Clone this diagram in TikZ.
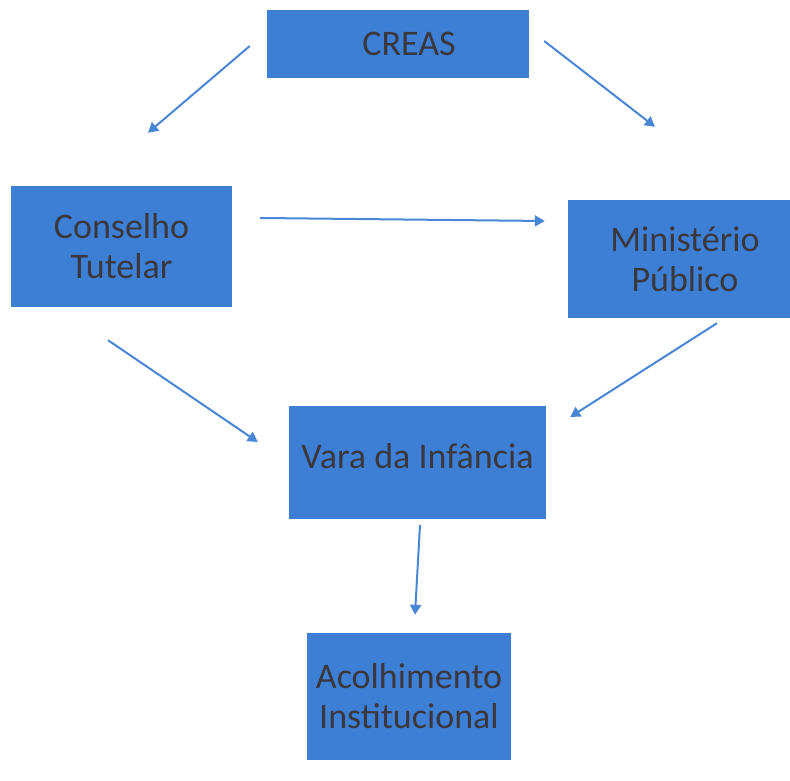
\documentclass[tikz,border=0pt]{standalone}
\usepackage{fontspec}
\setmainfont{Carlito}
\usetikzlibrary{arrows.meta}
\definecolor{boxblue}{RGB}{62,127,214}
\definecolor{arrowblue}{RGB}{74,134,214}
\definecolor{textgrey}{RGB}{58,56,60}

\begin{document}
\begin{tikzpicture}[x=1pt,y=1pt,
  box/.style={rectangle,fill=boxblue,text=textgrey,align=center,inner sep=0pt,
    font=\fontsize{36}{40}\selectfont},
  arr/.style={draw=arrowblue,line width=2pt,-{Triangle[width=11pt,length=10pt]}}]
\useasboundingbox (0,0) rectangle (790,781);
\node [box,minimum width=262pt,minimum height=68pt] (creas) at (398,737) {\hspace*{22pt}CREAS};
\node [box,minimum width=221pt,minimum height=121pt] (conselho) at (121.5,534.5) {Conselho\\Tutelar};
\node [box,minimum width=222pt,minimum height=118pt] (mp) at (679,522) {\hspace*{12pt}Ministério\\\hspace*{12pt}Público};
\node [box,minimum width=257pt,minimum height=113pt] (vara) at (417.5,318.5) {\raisebox{12pt}{Vara da Infância}};
\node [box,minimum width=204pt,minimum height=127pt] (acol) at (409,84.5) {Acolhimento\\Institucional};

% setas
\draw [arr] ([xshift=-17pt,yshift=-2pt]creas.west) -- ([xshift=26.5pt,yshift=53pt]conselho.north);
\draw [arr] ([xshift=15pt,yshift=3pt]creas.east) -- ([xshift=-24pt,yshift=73pt]mp.north);
\draw [arr] ([xshift=28pt,yshift=28.5pt]conselho.east) -- ([xshift=-23pt,yshift=38pt]mp.west);
\draw [arr] ([xshift=-13.5pt,yshift=-33pt]conselho.south) -- ([xshift=-31pt,yshift=20.5pt]vara.west);
\draw [arr] ([xshift=38pt,yshift=-5pt]mp.south) -- ([xshift=24pt,yshift=45.5pt]vara.east);
\draw [arr] ([xshift=2.5pt,yshift=-6pt]vara.south) -- ([xshift=6pt,yshift=18pt]acol.north);
\end{tikzpicture}
\end{document}
